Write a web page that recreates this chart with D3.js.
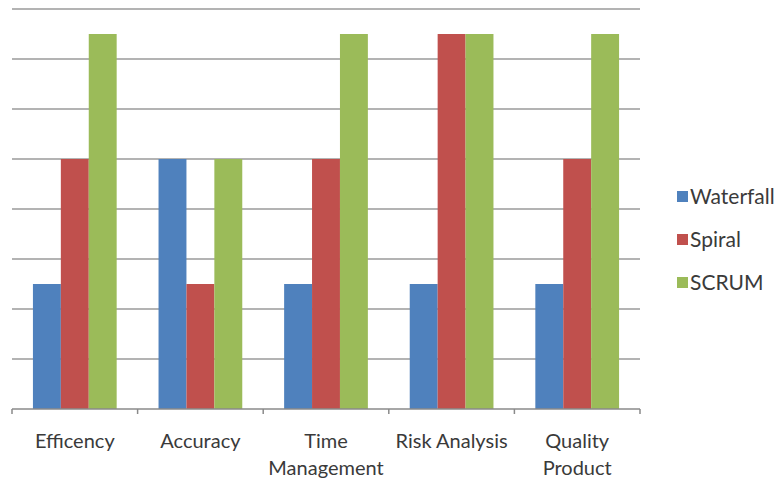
<!DOCTYPE html>
<html><head><meta charset="utf-8">
<script src="https://cdn.jsdelivr.net/npm/d3@7"></script>
<style>body{margin:0;background:#fff}svg{display:block}</style>
</head><body>
<svg id="c" width="781" height="483"></svg>
<script>
const categories = ["Efficency", "Accuracy", "Time Management", "Risk Analysis", "Quality Product"];
const categoryLines = [["Efficency"], ["Accuracy"], ["Time", "Management"], ["Risk Analysis"], ["Quality", "Product"]];
const seriesNames = ["Waterfall", "Spiral", "SCRUM"];
const waterfall = [2.5, 5, 2.5, 2.5, 2.5];
const spiral = [5, 2.5, 5, 7.5, 5];
const scrum = [7.5, 5, 7.5, 7.5, 7.5];
const colors = ["#4F81BD", "#C0504D", "#9BBB59"];
const yTicks = [0, 1, 2, 3, 4, 5, 6, 7, 8];

const series = [waterfall, spiral, scrum];
const svg = d3.select("#c");
const m = {l: 12, r: 141, t: 9, b: 74};
const W = 781, H = 483;
const x = d3.scaleBand().domain(categories).range([m.l, W - m.r]).paddingInner(0).paddingOuter(0);
const y = d3.scaleLinear().domain([0, 8]).range([H - m.b, m.t]);
const inner = d3.scaleBand().domain(seriesNames).range([0, x.bandwidth()]).paddingOuter(0.75).paddingInner(0);

// gridlines
svg.append("g").selectAll("line").data(yTicks.filter(d => d > 0)).join("line")
  .attr("x1", m.l).attr("x2", W - m.r)
  .attr("y1", d => y(d)).attr("y2", d => y(d))
  .attr("stroke", "#9a9a9a").attr("stroke-width", 1.5);

// bars
const g = svg.append("g");
categories.forEach((c, i) => {
  seriesNames.forEach((s, j) => {
    g.append("rect")
      .attr("x", x(c) + inner(s))
      .attr("width", inner.bandwidth())
      .attr("y", y(series[j][i]))
      .attr("height", y(0) - y(series[j][i]))
      .attr("fill", colors[j]);
  });
});

// x axis
const ax = svg.append("g");
ax.append("line").attr("x1", m.l).attr("x2", W - m.r).attr("y1", y(0)).attr("y2", y(0))
  .attr("stroke", "#8a8a8a").attr("stroke-width", 1.5);
const bounds = categories.map(c => x(c)).concat([x(categories[categories.length - 1]) + x.bandwidth()]);
ax.selectAll("line.t").data(bounds).join("line").attr("class", "t")
  .attr("x1", d => d).attr("x2", d => d).attr("y1", y(0)).attr("y2", y(0) + 5)
  .attr("stroke", "#8a8a8a").attr("stroke-width", 1.5);

categories.forEach((c, i) => {
  const t = ax.append("text")
    .attr("x", x(c) + x.bandwidth() / 2)
    .attr("y", 448)
    .attr("text-anchor", "middle")
    .attr("font-family", "Lato, 'Open Sans', sans-serif")
    .attr("font-size", 20)
    .attr("fill", "#3a3a3a");
  categoryLines[i].forEach((ln, k) => {
    t.append("tspan").attr("x", x(c) + x.bandwidth() / 2).attr("dy", k === 0 ? 0 : 27).text(ln);
  });
});

// legend
const lg = svg.append("g");
seriesNames.forEach((s, j) => {
  const ly = 197 + j * 43;
  lg.append("rect").attr("x", 677).attr("y", ly - 6).attr("width", 11).attr("height", 11).attr("fill", colors[j]);
  lg.append("text").attr("x", 690).attr("y", ly + 7)
    .attr("font-family", "Lato, 'Open Sans', sans-serif")
    .attr("font-size", 21).attr("fill", "#3a3a3a").text(s);
});
</script>
</body></html>
